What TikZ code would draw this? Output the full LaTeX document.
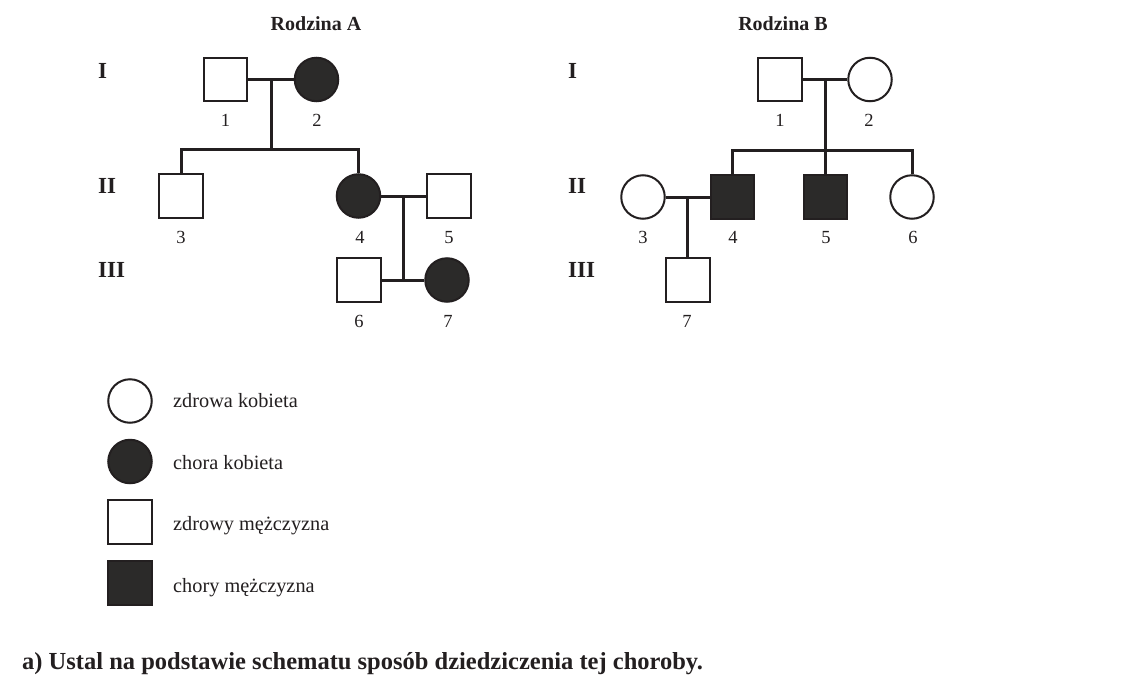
\documentclass[tikz,border=0pt]{standalone}
\usepackage{fontspec}
\setmainfont{Liberation Serif}
\usetikzlibrary{calc}
\definecolor{inkc}{RGB}{35,31,32}
\definecolor{fillc}{RGB}{43,42,41}
\tikzset{
  person/.style={draw=inkc, line width=2pt, inner sep=0pt, fill=white},
  male/.style={person, rectangle, minimum size=43.5pt},
  female/.style={person, circle, minimum size=43.5pt},
  aff/.style={fill=fillc},
  conn/.style={draw=inkc, line width=3pt},
  num/.style={font=\fontsize{18.5}{20}\selectfont, text=inkc, inner sep=0pt, anchor=base},
  gen/.style={font=\bfseries\fontsize{23}{25}\selectfont, text=inkc, inner sep=0pt, anchor=base west},
  ttl/.style={font=\bfseries\fontsize{20}{22}\selectfont, text=inkc, inner sep=0pt, anchor=base},
  leg/.style={font=\fontsize{20.3}{22}\selectfont, text=inkc, inner sep=0pt, anchor=base west},
  qst/.style={font=\bfseries\fontsize{24.5}{26}\selectfont, text=inkc, inner sep=0pt, anchor=base west}
}
\begin{document}
\begin{tikzpicture}[x=1pt,y=-1pt]
\useasboundingbox[fill=white] (0,0) rectangle (1146,688);

% ---------- Family A ----------
\node[ttl] (tA) at (316,30) {Rodzina A};
\node[gen] (gAI) at (98,78) {I};
\node[gen] (gAII) at (98,193) {II};
\node[gen] (gAIII) at (98,277) {III};

\coordinate (mA1) at (271,79.5);
\coordinate (sA1) at (271,149);
\coordinate (mA2) at (403.5,196);

\node[male] (A1) at (225.5,79.5) {};
\node[female, aff] (A2) at (316.5,79.5) {};
\node[male] (A3) at (181,196) {};
\node[female, aff] (A4) at (358.5,196) {};
\node[male] (A5) at (449,196) {};
\node[male] (A6) at (359,280) {};
\node[female, aff] (A7) at (447,280) {};

\draw[conn] (A1) -- (A2);
\draw[conn] (mA1) -- (sA1);
\draw[conn] (A3.north) |- (sA1) -| (A4.north);
\draw[conn] (A4) -- (A5);
\draw[conn] (A6) -- (A7);
\draw[conn] (mA2) -- (mA2 |- A6.east);

\node[num] (nA1) at (225.5,126) {1};
\node[num] (nA2) at (317,126) {2};
\node[num] (nA3) at (181,243) {3};
\node[num] (nA4) at (360,243) {4};
\node[num] (nA5) at (449,243) {5};
\node[num] (nA6) at (359,327) {6};
\node[num] (nA7) at (448,327) {7};

% ---------- Family B ----------
\node[ttl] (tB) at (783,30) {Rodzina B};
\node[gen] (gBI) at (568,78) {I};
\node[gen] (gBII) at (568,193) {II};
\node[gen] (gBIII) at (568,277) {III};

\coordinate (mB1) at (825.5,79.5);
\coordinate (sB1) at (825.5,150);
\coordinate (mB2) at (687.5,197);

\node[male] (B1) at (780,79.5) {};
\node[female] (B2) at (870,79.5) {};
\node[female] (B3) at (643,197) {};
\node[male, aff] (B4) at (732.5,197) {};
\node[male, aff] (B5) at (825.5,197) {};
\node[female] (B6) at (912,197) {};
\node[male] (B7) at (688,280) {};

\draw[conn] (B1) -- (B2);
\draw[conn] (B4.north) |- (sB1) -| (B6.north);
\draw[conn] (mB1) -- (B5.north);
\draw[conn] (B3) -- (B4);
\draw[conn] (mB2) -- (mB2 |- B7.north);

\node[num] (nB1) at (780,126) {1};
\node[num] (nB2) at (869,126) {2};
\node[num] (nB3) at (643,243) {3};
\node[num] (nB4) at (733,243) {4};
\node[num] (nB5) at (826,243) {5};
\node[num] (nB6) at (913,243) {6};
\node[num] (nB7) at (687,327) {7};

% ---------- Legend ----------
\node[female] (L1) at (130,401) {};
\node[female, aff] (L2) at (130,461.5) {};
\node[male] (L3) at (130,522) {};
\node[male, aff] (L4) at (130,583) {};
\node[leg] (tL1) at (173,407) {zdrowa kobieta};
\node[leg] (tL2) at (173,469) {chora kobieta};
\node[leg] (tL3) at (173,530) {zdrowy mężczyzna};
\node[leg] (tL4) at (173,592) {chory mężczyzna};

% ---------- Question ----------
\node[qst] (q) at (22,669) {a) Ustal na podstawie schematu sposób dziedziczenia tej choroby.};
\end{tikzpicture}
\end{document}
